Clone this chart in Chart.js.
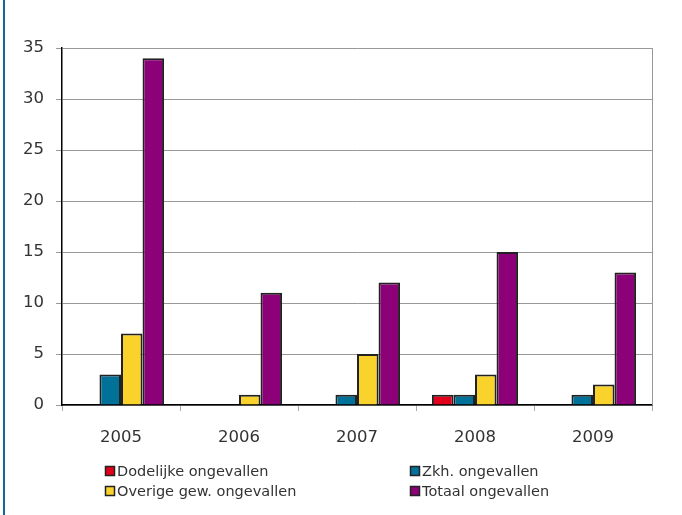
<!DOCTYPE html>
<html><head><meta charset="utf-8">
<script src="https://cdn.jsdelivr.net/npm/chart.js@4/dist/chart.umd.min.js"></script>
<style>
html,body{margin:0;padding:0;background:#fff;}
#wrap{position:relative;width:682px;height:515px;}
#bar{position:absolute;left:3px;top:0;width:2px;height:515px;background:#0E6C93;}
</style></head>
<body><div id="wrap"><div id="bar"></div><canvas id="c" width="682" height="515"></canvas></div>
<script>
const categories = ["2005","2006","2007","2008","2009"];
const seriesNames = ["Dodelijke ongevallen","Zkh. ongevallen","Overige gew. ongevallen","Totaal ongevallen"];
const dodelijke = [0,0,0,1,0];
const zkh = [3,0,1,1,1];
const overige = [7,1,5,3,2];
const totaal = [34,11,12,15,13];
const colors = ["#E3001B","#00729A","#FAD22C","#8C0078"];
const yTicks = [0,5,10,15,20,25,30,35];

const values = [dodelijke, zkh, overige, totaal];
const FONT = "'DejaVu Sans', Verdana, sans-serif";

const legendPlugin = {
  id:'customLegend',
  afterDraw(chart){
    const ctx = chart.ctx;
    ctx.save();
    ctx.font = "14.5px " + FONT;
    ctx.textBaseline = 'middle';
    const pos = [[105,471],[410,471],[105,491],[410,491]];
    chart.data.datasets.forEach((ds,i)=>{
      const [x,y] = pos[i];
      ctx.fillStyle = ds.backgroundColor;
      ctx.fillRect(x+0.5,y-4.5,9,9);
      ctx.strokeStyle = '#222';
      ctx.lineWidth = 1.5;
      ctx.strokeRect(x+0.5,y-4.5,9,9);
      ctx.fillStyle = '#333';
      ctx.fillText(ds.label, x+12, y+1);
    });
    const a = chart.chartArea;
    ctx.strokeStyle = '#999';
    ctx.lineWidth = 1;
    ctx.beginPath();
    ctx.moveTo(Math.round(a.right)+0.5, a.top);
    ctx.lineTo(Math.round(a.right)+0.5, a.bottom);
    ctx.stroke();
    ctx.restore();
  }
};

new Chart(document.getElementById('c'), {
  type:'bar',
  data:{
    labels:categories,
    datasets: seriesNames.map((n,i)=>({
      label:n, data:values[i], backgroundColor:colors[i],
      borderColor:'#222', borderWidth:2,
      barPercentage:1.0, categoryPercentage:0.73
    }))
  },
  options:{
    responsive:false, animation:false,
    layout:{padding:{left:0,top:48,right:30,bottom:0}},
    plugins:{legend:{display:false}, tooltip:{enabled:false}},
    scales:{
      x:{
        grid:{drawOnChartArea:false, drawTicks:true, tickLength:6, color:'#aaa', offset:true},
        border:{color:'#000', width:1.5},
        ticks:{font:{family:FONT,size:16.5}, color:'#333', padding:17},
        afterFit(s){ s.height = 110; }
      },
      y:{
        min:0, max:35,
        afterBuildTicks(s){ s.ticks = yTicks.map(v=>({value:v})); },
        grid:{color:'#999', tickLength:6, lineWidth:1},
        border:{color:'#000', width:1.5},
        ticks:{font:{family:FONT,size:16.5}, color:'#333', padding:12},
        afterFit(s){ s.width = 62; }
      }
    }
  },
  plugins:[legendPlugin]
});
</script></body></html>
